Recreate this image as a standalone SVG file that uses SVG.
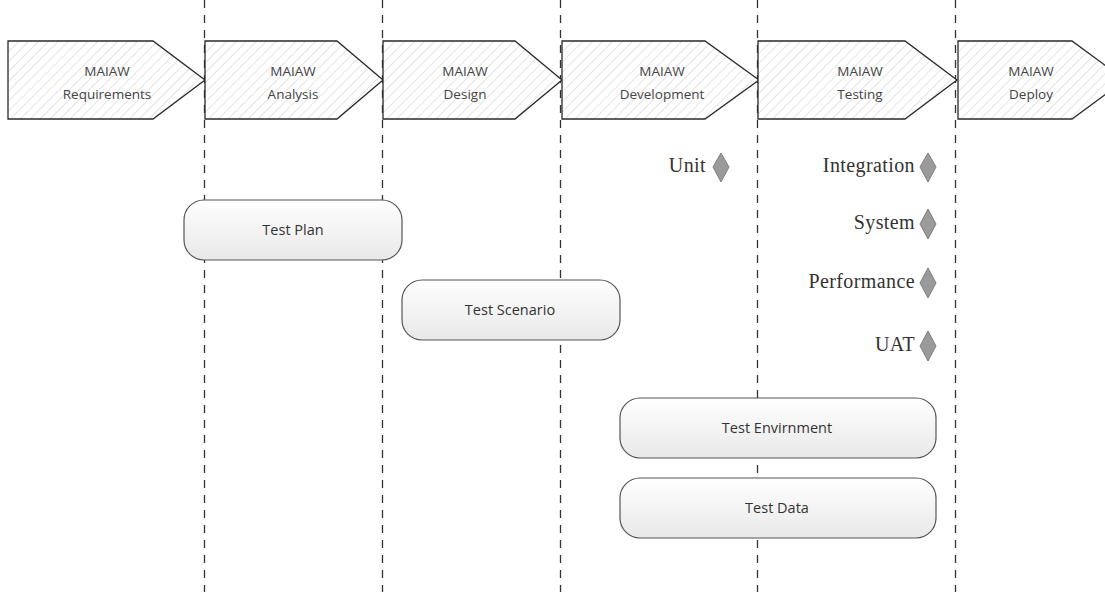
<svg xmlns="http://www.w3.org/2000/svg" width="1105" height="598" viewBox="0 0 1105 598">
<defs>
<pattern id="hatch" width="7" height="7" patternUnits="userSpaceOnUse" patternTransform="rotate(45)">
<rect width="7" height="7" fill="#ffffff"/>
<line x1="0" y1="0" x2="0" y2="7" stroke="#e4e4e4" stroke-width="2"/>
</pattern>
<linearGradient id="boxg" x1="0" y1="0" x2="0" y2="1">
<stop offset="0" stop-color="#ffffff"/>
<stop offset="1" stop-color="#e8e8e8"/>
</linearGradient>
</defs>
<style>
.lane{stroke:#333;stroke-width:1.3;stroke-dasharray:8 7;fill:none}
.chev{fill:url(#hatch);stroke:#2a2a2a;stroke-width:1.3}
.ct{font-family:"Open Sans","Liberation Sans",sans-serif;font-size:13.5px;fill:#444;text-anchor:middle}
.box{fill:url(#boxg);stroke:#555;stroke-width:1.2}
.bt{font-family:"Open Sans","Liberation Sans",sans-serif;font-size:14.5px;fill:#333;text-anchor:middle}
.dia{fill:#9a9a9a;stroke:#808080;stroke-width:1}
.mt{font-family:"Liberation Serif","Times New Roman",serif;font-size:20px;letter-spacing:0.4px;fill:#333;text-anchor:end}
</style>
<rect width="1105" height="598" fill="#ffffff"/>
<g id="connectors">
<line class="lane" x1="204.5" y1="0" x2="204.5" y2="592"/>
<line class="lane" x1="382.5" y1="0" x2="382.5" y2="592"/>
<line class="lane" x1="560.5" y1="0" x2="560.5" y2="592"/>
<line class="lane" x1="757.5" y1="0" x2="757.5" y2="592"/>
<line class="lane" x1="955.5" y1="0" x2="955.5" y2="592"/>
</g>
<g id="phase-requirements">
<polygon class="chev" points="8,41 153,41 205,80 153,119 8,119"/>
<text class="ct" x="107" y="76">MAIAW</text>
<text class="ct" x="107" y="99">Requirements</text>
</g>
<g id="phase-analysis">
<polygon class="chev" points="205,41 337,41 383,80 337,119 205,119"/>
<text class="ct" x="293" y="76">MAIAW</text>
<text class="ct" x="293" y="99">Analysis</text>
</g>
<g id="phase-design">
<polygon class="chev" points="383,41 515,41 562,80 515,119 383,119"/>
<text class="ct" x="465" y="76">MAIAW</text>
<text class="ct" x="465" y="99">Design</text>
</g>
<g id="phase-development">
<polygon class="chev" points="562,41 705,41 759,80 705,119 562,119"/>
<text class="ct" x="662" y="76">MAIAW</text>
<text class="ct" x="662" y="99">Development</text>
</g>
<g id="phase-testing">
<polygon class="chev" points="758,41 905,41 957,80 905,119 758,119"/>
<text class="ct" x="860" y="76">MAIAW</text>
<text class="ct" x="860" y="99">Testing</text>
</g>
<g id="phase-deploy">
<polygon class="chev" points="958,41 1072,41 1125,80 1072,119 958,119"/>
<text class="ct" x="1031" y="76">MAIAW</text>
<text class="ct" x="1031" y="99">Deploy</text>
</g>
<g id="ms-unit">
<polygon class="dia" points="721,153 729,167 721,182 713,167"/>
<text class="mt" x="706" y="172">Unit</text>
</g>
<g id="ms-integration">
<polygon class="dia" points="928,153 936,167 928,182 920,167"/>
<text class="mt" x="915" y="172">Integration</text>
</g>
<g id="ms-system">
<polygon class="dia" points="928,209 936,224 928,239 920,224"/>
<text class="mt" x="915" y="229">System</text>
</g>
<g id="ms-performance">
<polygon class="dia" points="928,268 936,283 928,298 920,283"/>
<text class="mt" x="915" y="288">Performance</text>
</g>
<g id="ms-uat">
<polygon class="dia" points="928,331 936,346 928,361 920,346"/>
<text class="mt" x="915" y="351">UAT</text>
</g>
<g id="test-plan">
<rect class="box" x="184" y="200" width="218" height="60" rx="20" ry="20"/>
<text class="bt" x="293" y="235">Test Plan</text>
</g>
<g id="test-scenario">
<rect class="box" x="402" y="280" width="218" height="60" rx="20" ry="20"/>
<text class="bt" x="510" y="315">Test Scenario</text>
</g>
<g id="test-envirnment">
<rect class="box" x="620" y="398" width="316" height="60" rx="20" ry="20"/>
<text class="bt" x="777" y="433">Test Envirnment</text>
</g>
<g id="test-data">
<rect class="box" x="620" y="478" width="316" height="60" rx="20" ry="20"/>
<text class="bt" x="777" y="513">Test Data</text>
</g>
</svg>
